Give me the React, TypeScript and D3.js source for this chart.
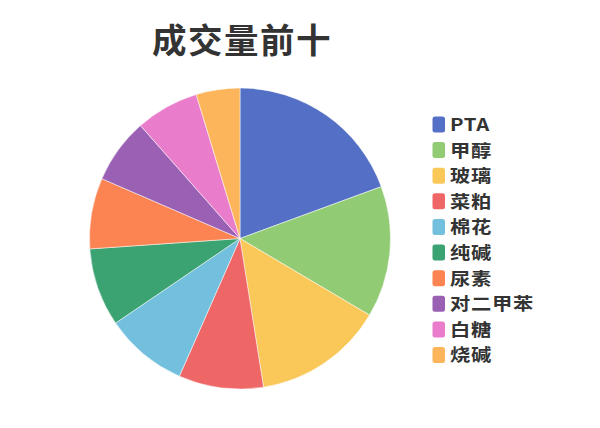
import React from "react";
import * as d3 from "d3";

const categories = ["PTA", "甲醇", "玻璃", "菜粕", "棉花", "纯碱", "尿素", "对二甲苯", "白糖", "烧碱"];
const values = [19.4, 14.1, 14.0, 9.1, 8.9, 8.4, 7.6, 7.0, 6.8, 4.7];
const colors = ["#5470c6", "#91cc75", "#fac858", "#ee6666", "#73c0de", "#3ba272", "#fc8452", "#9a60b4", "#ea7ccc", "#fdb55b"];
const title = "成交量前十";

export default function App() {
  const width = 600;
  const height = 428;
  const cx = 240;
  const cy = 238.5;
  const r = 150.5;
  const data = categories.map((c, i) => ({ name: c, value: values[i] }));
  const pie = d3.pie<{ name: string; value: number }>().value((d) => d.value).sort(null);
  const arcs = pie(data);
  const arc = d3.arc<d3.PieArcDatum<{ name: string; value: number }>>().innerRadius(0).outerRadius(r);
  const color = d3.scaleOrdinal<string, string>().domain(categories).range(colors);
  const legendY = d3.scaleLinear().domain([0, categories.length - 1]).range([124.5, 355]);
  const font = "'Noto Sans CJK SC', 'Noto Sans', sans-serif";
  const sx = 1.16;
  return (
    <svg width={width} height={height} style={{ position: "absolute", left: 0, top: 0, background: "#fff" }}>
      <text x={152} y={53} fontFamily={font} fontSize={34.5} fontWeight="bold" fill="#333" letterSpacing={1.5}>
        {title}
      </text>
      <g transform={`translate(${cx},${cy})`}>
        {arcs.map((a) => (
          <path key={a.data.name} d={arc(a) || ""} fill={color(a.data.name)} stroke="#fff" strokeWidth={0.5} />
        ))}
      </g>
      <g>
        {categories.map((c, i) => (
          <g key={c} transform={`translate(0,${legendY(i)})`}>
            <rect x={432.5} y={-8} width={12.5} height={16} rx={2.5} fill={color(c)} />
            <g transform={`translate(450,0) scale(${sx},1)`}>
              <text x={0} y={0} dy="0.37em" fontFamily={font} fontSize={17.5} fontWeight="bold" fill="#333" letterSpacing={0.6}>
                {c}
              </text>
            </g>
          </g>
        ))}
      </g>
    </svg>
  );
}
